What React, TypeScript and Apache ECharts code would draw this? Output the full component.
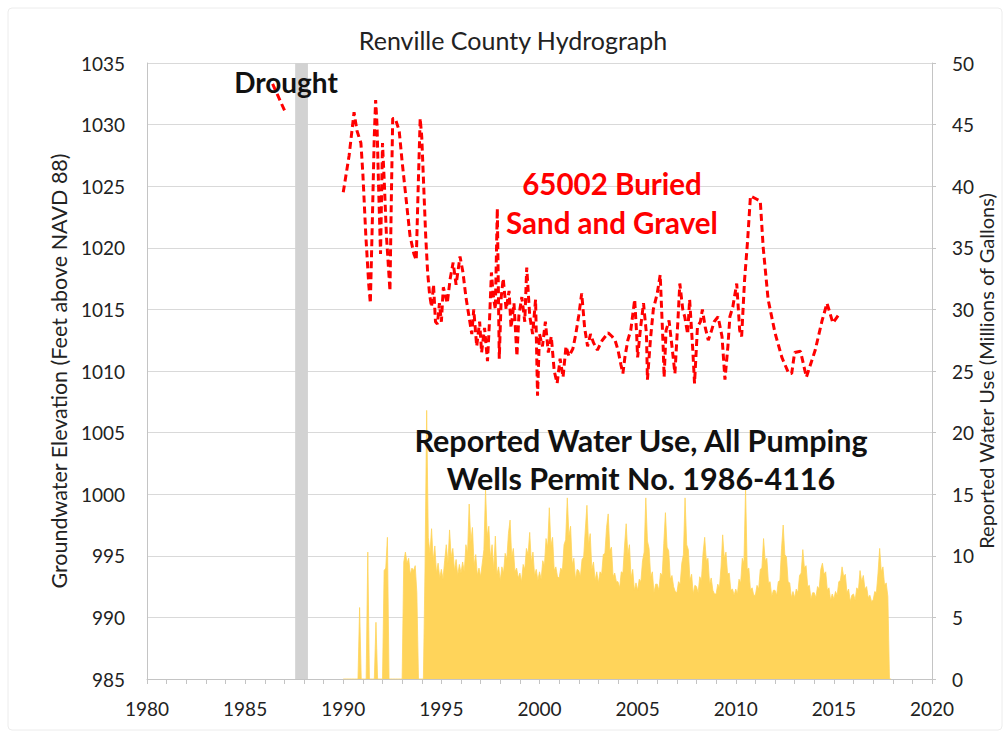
import React, { useEffect, useRef } from "react";
import * as echarts from "echarts";

// ---------- DATA ----------
const xTickYears = [1980, 1985, 1990, 1995, 2000, 2005, 2010, 2015, 2020];
const elevTicks = [985, 990, 995, 1000, 1005, 1010, 1015, 1020, 1025, 1030, 1035];
const useTicks = [0, 5, 10, 15, 20, 25, 30, 35, 40, 45, 50];

// Groundwater elevation, well 65002 (decimal year, feet above NAVD 88)
const gwEarly: [number, number][] = [
  [1986.4, 1033.3],
  [1987.05, 1031.0],
];
const gw1990s: [number, number][] = [
  [1990.0, 1024.5], [1990.3, 1027.5], [1990.55, 1031.0], [1990.7, 1029.5], [1990.9, 1028.5],
  [1991.0, 1026.0], [1991.15, 1021.0], [1991.3, 1017.0], [1991.38, 1015.5], [1991.48, 1022.0],
  [1991.58, 1029.0], [1991.65, 1032.0], [1991.72, 1030.0], [1991.8, 1025.0], [1991.9, 1019.5],
  [1991.95, 1024.0], [1992.0, 1028.5], [1992.1, 1025.0], [1992.2, 1021.0], [1992.3, 1018.5],
  [1992.38, 1016.5], [1992.45, 1024.0], [1992.52, 1030.5], [1992.65, 1030.5], [1992.85, 1029.5],
  [1993.0, 1027.0], [1993.2, 1024.0], [1993.4, 1021.0], [1993.6, 1019.5], [1993.72, 1019.0],
  [1993.82, 1025.0], [1993.92, 1030.5], [1994.0, 1029.0], [1994.1, 1025.0], [1994.2, 1021.0],
  [1994.3, 1018.0], [1994.4, 1016.2], [1994.5, 1015.2], [1994.6, 1017.0], [1994.7, 1014.0],
  [1994.8, 1013.8], [1994.9, 1015.5], [1995.0, 1014.0], [1995.1, 1016.8], [1995.3, 1015.5],
  [1995.45, 1017.5], [1995.6, 1018.8], [1995.75, 1017.0], [1995.95, 1019.3], [1996.1, 1018.0],
  [1996.25, 1016.0], [1996.4, 1014.5], [1996.55, 1013.0], [1996.65, 1015.0], [1996.8, 1012.0],
  [1996.95, 1014.0], [1997.05, 1011.5], [1997.2, 1013.5], [1997.35, 1010.8], [1997.45, 1014.0],
  [1997.55, 1018.0], [1997.65, 1016.0], [1997.75, 1015.0], [1997.85, 1023.2], [1997.95, 1011.0],
  [1998.05, 1016.0], [1998.15, 1017.5], [1998.3, 1015.0], [1998.45, 1016.5], [1998.55, 1013.5],
  [1998.7, 1015.5], [1998.85, 1011.2], [1998.95, 1014.5], [1999.1, 1016.0], [1999.25, 1014.0],
  [1999.35, 1018.4], [1999.5, 1014.5], [1999.65, 1013.0], [1999.8, 1015.8], [1999.9, 1008.0],
];
const gw2000s: [number, number][] = [
  [2000.0, 1013.0], [2000.15, 1012.0], [2000.3, 1014.0], [2000.45, 1011.5], [2000.6, 1012.8],
  [2000.75, 1010.0], [2000.9, 1009.0], [2001.05, 1011.0], [2001.2, 1009.5], [2001.35, 1012.0],
  [2001.5, 1011.2], [2001.7, 1011.8], [2001.85, 1013.0], [2002.0, 1014.5], [2002.15, 1016.3],
  [2002.3, 1013.5], [2002.45, 1012.0], [2002.6, 1013.0], [2002.75, 1012.3], [2002.95, 1011.7],
  [2003.2, 1012.5], [2003.5, 1013.1], [2003.7, 1012.8], [2003.85, 1012.5], [2004.0, 1011.7],
  [2004.15, 1010.5], [2004.25, 1009.8], [2004.35, 1011.1], [2004.5, 1012.5], [2004.65, 1013.3],
  [2004.85, 1015.8], [2004.95, 1013.0], [2005.0, 1011.1], [2005.15, 1013.5], [2005.3, 1015.5],
  [2005.45, 1013.0], [2005.5, 1009.3], [2005.65, 1012.5], [2005.8, 1015.0], [2006.0, 1016.3],
  [2006.15, 1017.8], [2006.3, 1012.0], [2006.35, 1009.5], [2006.45, 1013.3], [2006.6, 1014.1],
  [2006.75, 1012.0], [2006.9, 1009.8], [2007.05, 1014.0], [2007.15, 1017.1], [2007.3, 1015.0],
  [2007.4, 1014.4], [2007.55, 1013.0], [2007.65, 1015.8], [2007.8, 1012.0], [2007.9, 1009.0],
  [2008.05, 1013.6], [2008.2, 1014.0], [2008.3, 1015.0], [2008.45, 1013.5], [2008.6, 1012.5],
  [2008.75, 1013.2], [2008.9, 1014.0], [2009.1, 1014.4], [2009.3, 1012.8], [2009.45, 1009.3],
  [2009.6, 1012.0], [2009.7, 1014.4], [2009.85, 1015.2],
];
const gw2010s: [number, number][] = [
  [2010.05, 1017.1], [2010.2, 1013.3], [2010.3, 1012.8], [2010.45, 1017.4], [2010.6, 1020.5],
  [2010.75, 1024.2], [2011.0, 1024.0], [2011.25, 1023.8], [2011.4, 1020.0], [2011.65, 1015.8],
  [2012.0, 1013.1], [2012.35, 1011.1], [2012.7, 1009.8], [2012.85, 1009.8], [2013.0, 1011.5],
  [2013.3, 1011.6], [2013.6, 1009.5], [2014.05, 1011.7], [2014.4, 1014.1], [2014.65, 1015.5],
  [2014.95, 1013.9], [2015.3, 1014.7],
];

// Reported water use, monthly (millions of gallons), Jan..Dec
const useYears = [
  1990, 1991, 1992, 1993, 1994, 1995, 1996, 1997, 1998, 1999, 2000, 2001, 2002, 2003, 2004,
  2005, 2006, 2007, 2008, 2009, 2010, 2011, 2012, 2013, 2014, 2015, 2016, 2017,
];
const useMonthly: number[][] = [
  [0, 0, 0, 0, 0, 0, 0, 0, 0, 0, 5.8, 0],
  [0, 0, 0, 10.3, 0, 0, 0, 0, 4.6, 0, 0, 0],
  [0, 8.8, 9.0, 11.5, 0, 0, 0, 0, 0, 0, 0, 0],
  [0, 9.5, 10.3, 9.4, 9.8, 8.5, 9.0, 8.8, 9.2, 7.0, 0, 0],
  [0, 0, 9.0, 21.8, 11.5, 10.2, 12.2, 9.6, 10.8, 8.6, 9.4, 8.2],
  [8.9, 8.1, 9.6, 10.9, 9.4, 12.1, 9.9, 10.6, 8.8, 9.7, 8.4, 9.3],
  [8.6, 9.5, 8.7, 10.9, 10.2, 14.2, 11.1, 12.3, 9.2, 10.1, 8.4, 9.0],
  [8.3, 9.4, 10.5, 15.4, 11.6, 12.4, 9.8, 10.9, 8.9, 11.6, 8.5, 9.1],
  [8.0, 9.1, 8.6, 10.2, 9.7, 11.8, 12.9, 9.9, 10.6, 8.7, 9.0, 8.2],
  [8.6, 7.9, 9.3, 8.9, 10.6, 10.1, 11.9, 9.5, 10.3, 8.4, 8.9, 8.0],
  [8.7, 8.1, 9.6, 9.2, 11.4, 10.7, 13.9, 10.8, 11.5, 8.8, 9.1, 8.3],
  [8.2, 9.0, 8.8, 10.9, 11.3, 14.7, 11.6, 12.4, 9.3, 9.8, 8.1, 8.9],
  [8.8, 8.3, 9.7, 9.9, 12.1, 14.1, 10.9, 11.8, 8.9, 9.5, 8.0, 8.7],
  [7.8, 8.7, 8.5, 10.1, 10.2, 12.3, 13.4, 10.4, 10.7, 8.3, 8.6, 7.9],
  [7.9, 7.4, 8.7, 8.6, 10.8, 12.6, 10.1, 10.9, 8.2, 8.9, 7.2, 7.8],
  [7.2, 8.1, 7.9, 9.6, 10.3, 14.7, 11.2, 10.6, 8.3, 8.7, 7.0, 7.7],
  [7.7, 7.2, 8.6, 8.4, 11.0, 13.5, 10.7, 10.4, 8.1, 8.4, 7.5, 7.1],
  [7.0, 7.9, 7.7, 9.4, 10.1, 14.7, 10.9, 10.5, 8.0, 8.5, 6.9, 7.6],
  [7.5, 7.0, 8.3, 8.0, 10.2, 11.5, 9.6, 9.8, 7.7, 8.2, 7.2, 6.9],
  [6.9, 7.7, 7.4, 9.1, 11.7, 9.8, 10.3, 8.5, 8.6, 7.2, 7.3, 6.8],
  [7.3, 6.9, 8.1, 7.8, 9.8, 9.4, 15.5, 8.9, 9.0, 7.2, 7.4, 6.8],
  [6.8, 7.6, 7.3, 8.9, 9.0, 11.4, 9.6, 9.8, 7.8, 7.9, 6.7, 7.2],
  [7.2, 6.8, 7.9, 8.0, 10.6, 12.5, 10.1, 9.9, 7.9, 7.8, 6.6, 7.1],
  [6.6, 7.3, 7.0, 8.4, 8.6, 10.5, 9.0, 9.2, 7.5, 7.6, 6.5, 7.0],
  [7.0, 6.6, 7.5, 7.3, 8.9, 9.4, 8.5, 8.7, 7.2, 7.4, 6.4, 6.9],
  [6.5, 7.1, 6.8, 7.9, 8.0, 9.1, 8.3, 8.5, 7.0, 7.3, 6.3, 6.8],
  [6.9, 6.4, 7.4, 7.2, 8.8, 7.9, 8.4, 7.3, 7.5, 6.6, 6.8, 6.3],
  [6.4, 7.1, 7.0, 8.6, 10.6, 8.7, 9.1, 7.6, 7.8, 6.7, 0, 0],
];

const droughtSpan = [1987.55, 1988.2];

const FONT = "Lato, 'Open Sans', sans-serif";
const plain = (v: number) => String(v);

export default function App() {
  const ref = useRef<HTMLDivElement>(null);

  useEffect(() => {
    document.body.style.margin = "0";
    if (!ref.current) return;
    const chart = echarts.init(ref.current, undefined, { renderer: "svg" });

    const useData: [number, number][] = [];
    useYears.forEach((y, i) => {
      useMonthly[i].forEach((v, m) => useData.push([y + m / 12, v]));
    });
    const gwData: any[] = [...gwEarly, ["-", "-"], ...gw1990s, ...gw2000s, ...gw2010s];

    const option: any = {
      animation: false,
      textStyle: { fontFamily: FONT },
      title: {
        text: "Renville County Hydrograph",
        left: 508,
        top: 22,
        textAlign: "center",
        textStyle: { fontFamily: FONT, fontSize: 25, fontWeight: "normal", color: "#222" },
      },
      grid: {
        left: 147,
        right: 71,
        top: 63,
        bottom: 52,
        containLabel: false,
        outerBoundsMode: "none",
      },
      xAxis: {
        type: "value",
        min: xTickYears[0],
        max: xTickYears[xTickYears.length - 1],
        interval: 5,
        axisLine: { show: true, lineStyle: { color: "#c4c4c4", width: 1 } },
        axisTick: { show: true, length: 5, lineStyle: { color: "#c4c4c4" } },
        minorTick: { show: true, splitNumber: 5, length: 5, lineStyle: { color: "#c4c4c4" } },
        splitLine: { show: false },
        axisLabel: { fontFamily: FONT, fontSize: 19, color: "#222", margin: 20, formatter: plain },
      },
      yAxis: [
        {
          type: "value",
          min: elevTicks[0],
          max: elevTicks[elevTicks.length - 1],
          interval: 5,
          name: "Groundwater Elevation (Feet above NAVD 88)",
          nameLocation: "middle",
          nameGap: 76,
          nameTextStyle: { fontFamily: FONT, fontSize: 21.5, color: "#222" },
          axisLine: { show: true, lineStyle: { color: "#c4c4c4" } },
          axisTick: { show: false },
          splitLine: { show: true, lineStyle: { color: "#d9d9d9", width: 1 } },
          axisLabel: { fontFamily: FONT, fontSize: 19, color: "#222", margin: 22, formatter: plain },
        },
        {
          type: "value",
          position: "right",
          min: useTicks[0],
          max: useTicks[useTicks.length - 1],
          interval: 5,
          axisLine: { show: true, lineStyle: { color: "#c4c4c4" } },
          axisTick: { show: true, length: 4, lineStyle: { color: "#c4c4c4" } },
          splitLine: { show: false },
          axisLabel: { fontFamily: FONT, fontSize: 19, color: "#222", margin: 20, formatter: plain },
        },
      ],
      series: [
        {
          name: "Reported Water Use",
          type: "line",
          yAxisIndex: 1,
          data: useData,
          showSymbol: false,
          symbol: "none",
          lineStyle: { color: "#FFD45A", width: 0.8 },
          areaStyle: { color: "#FFD45A", opacity: 1 },
          z: 2,
          silent: true,
          markArea: {
            silent: true,
            itemStyle: { color: "#d2d2d2" },
            data: [[{ xAxis: droughtSpan[0] }, { xAxis: droughtSpan[1] }]],
          },
        },
        {
          name: "65002 Buried Sand and Gravel",
          type: "line",
          yAxisIndex: 0,
          data: gwData,
          showSymbol: false,
          symbol: "none",
          connectNulls: false,
          lineStyle: { color: "#FF0000", width: 3, type: [7, 4] },
          z: 3,
          silent: true,
        },
      ],
      graphic: [
        {
          type: "rect",
          shape: { x: 8, y: 8, width: 994, height: 722, r: 4 },
          style: { fill: "none", stroke: "#ececec", lineWidth: 1 },
          silent: true,
          z: -10,
        },
        {
          type: "text",
          x: 986,
          y: 371,
          rotation: Math.PI / 2,
          style: {
            text: "Reported Water Use (Millions of Gallons)",
            fontFamily: FONT,
            fontSize: 20,
            fill: "#222",
            align: "center",
            verticalAlign: "middle",
          },
          z: 10,
        },
        {
          type: "text",
          x: 286,
          y: 82,
          style: {
            text: "Drought",
            fontFamily: FONT,
            fontSize: 28,
            fontWeight: "bold",
            fill: "#111",
            align: "center",
            verticalAlign: "middle",
          },
          z: 10,
        },
        {
          type: "text",
          x: 612,
          y: 203,
          style: {
            text: "65002 Buried\nSand and Gravel",
            fontFamily: FONT,
            fontSize: 29.5,
            fontWeight: "bold",
            fill: "#FF0000",
            align: "center",
            verticalAlign: "middle",
            lineHeight: 39,
          },
          z: 10,
        },
        {
          type: "text",
          x: 641,
          y: 459,
          style: {
            text: "Reported Water Use, All Pumping\nWells Permit No. 1986-4116",
            fontFamily: FONT,
            fontSize: 30.5,
            fontWeight: "bold",
            fill: "#111",
            align: "center",
            verticalAlign: "middle",
            lineHeight: 38,
          },
          z: 10,
        },
      ],
    };

    chart.setOption(option);
    return () => chart.dispose();
  }, []);

  return (
    <div
      ref={ref}
      style={{ position: "fixed", left: 0, top: 0, width: 1003, height: 731, background: "#fff" }}
    />
  );
}
